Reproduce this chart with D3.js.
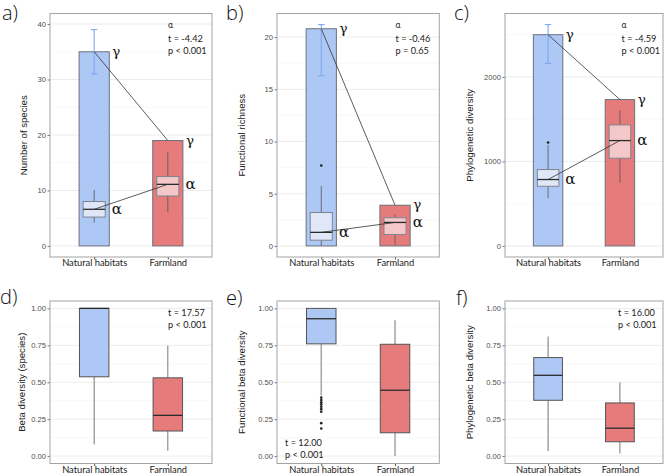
<!DOCTYPE html>
<html lang="en">
<head>
    <meta charset="UTF-8">
    <title>Diversity</title>
    <script src="https://cdn.jsdelivr.net/npm/d3@7/dist/d3.min.js"></script>
    <style>
        body {
            margin: 0;
            background: #fff;
        }
        #graphDiv {
            width: 669px;
            height: 475px;
        }
    </style>
</head>
<body>
<div id="graphDiv"></div>
<script>
    var categories = ["Natural habitats", "Farmland"];

    // a) species: gamma bars + alpha boxes (min, q1, median, q3, max)
    var speciesGamma = [35, 19];
    var speciesGammaErr = [31, 39];
    var speciesAlpha = [[4.2, 5.2, 6.6, 8.0, 10.1], [6.1, 9.0, 11.1, 12.5, 16.9]];
    var speciesOutliers = [[], []];
    var speciesTicks = [0, 10, 20, 30, 40];
    var speciesStats = ["\u03b1", "t  = -4.42", "p < 0.001"];

    // b) functional richness
    var fricGamma = [20.8, 3.9];
    var fricGammaErr = [16.3, 21.2];
    var fricAlpha = [[0, 0.55, 1.3, 3.2, 5.75], [0.1, 1.1, 2.25, 2.7, 3.0]];
    var fricOutliers = [[7.7], []];
    var fricTicks = [0, 5, 10, 15, 20];
    var fricStats = ["\u03b1", "t  = -0.46", "p = 0.65"];

    // c) phylogenetic diversity
    var pdGamma = [2500, 1732];
    var pdGammaErr = [2160, 2620];
    var pdAlpha = [[565, 706, 786, 904, 1195], [750, 1038, 1247, 1432, 1606]];
    var pdOutliers = [[1225], []];
    var pdTicks = [0, 1000, 2000];
    var pdStats = ["\u03b1", "t = -4.59", "p < 0.001"];

    // d-f) beta diversity boxes (min, q1, median, q3, max)
    var betaTicks = [0, 0.25, 0.5, 0.75, 1];
    var betaSpecies = [[0.08, 0.537, 1.0, 1.0, 1.0], [0.036, 0.17, 0.276, 0.53, 0.748]];
    var betaSpeciesOutliers = [[], []];
    var betaSpeciesStats = ["t  = 17.57", "p < 0.001"];

    var betaFunc = [[0.41, 0.76, 0.93, 1.0, 1.0], [0.0, 0.158, 0.446, 0.757, 0.919]];
    var betaFuncOutliers = [[0.396, 0.38, 0.365, 0.35, 0.334, 0.318, 0.30, 0.223, 0.187], []];
    var betaFuncStats = ["t  = 12.00", "p < 0.001"];

    var betaPhylo = [[0.034, 0.378, 0.547, 0.667, 0.809], [0.018, 0.097, 0.189, 0.36, 0.498]];
    var betaPhyloOutliers = [[], []];
    var betaPhyloStats = ["t = 16.00", "p < 0.001"];

    var fills = ["#adc8f4", "#e57b7b"];
    var innerFills = ["#dfe7f8", "#f4c8c8"];

    var panels = [
        {letter: "a)", lx: 2, ly: 19.5, x0: 50, x1: 212, y0: 13.5, y1: 257, domain: [-2.0, 41.9],
            ticks: speciesTicks, fmt: d3.format("d"), title: "Number of species", tx: 23.5,
            gamma: speciesGamma, err: speciesGammaErr, boxes: speciesAlpha, outliers: speciesOutliers,
            stats: speciesStats, sx: 168, sy: 28},
        {letter: "b)", lx: 226, ly: 19.5, x0: 277, x1: 439.3, y0: 13.5, y1: 257, domain: [-1.06, 22.26],
            ticks: fricTicks, fmt: d3.format("d"), title: "Functional richness", tx: 242,
            gamma: fricGamma, err: fricGammaErr, boxes: fricAlpha, outliers: fricOutliers,
            stats: fricStats, sx: 395.5, sy: 28},
        {letter: "c)", lx: 454, ly: 20, x0: 505, x1: 663, y0: 13.5, y1: 257, domain: [-131, 2751],
            ticks: pdTicks, fmt: d3.format("d"), title: "Phylogenetic diversity", tx: 470,
            gamma: pdGamma, err: pdGammaErr, boxes: pdAlpha, outliers: pdOutliers,
            stats: pdStats, sx: 621.5, sy: 28},
        {letter: "d)", lx: 0, ly: 304, x0: 50, x1: 212, y0: 301, y1: 463.5, domain: [-0.05, 1.05],
            ticks: betaTicks, fmt: d3.format(".2f"), title: "Beta diversity (species)", tx: 22,
            boxes: betaSpecies, outliers: betaSpeciesOutliers, whisker: "#666", whiskerW: 0.9,
            stats: betaSpeciesStats, sx: 168, sy: 316},
        {letter: "e)", lx: 226, ly: 305, x0: 277, x1: 439.3, y0: 301, y1: 463.5, domain: [-0.05, 1.05],
            ticks: betaTicks, fmt: d3.format(".2f"), title: "Functional beta diversity", tx: 242,
            boxes: betaFunc, outliers: betaFuncOutliers, whisker: "#a9a9a9", whiskerW: 1.6,
            stats: betaFuncStats, sx: 285, sy: 446},
        {letter: "f)", lx: 456, ly: 305, x0: 505, x1: 663, y0: 301, y1: 463.5, domain: [-0.05, 1.05],
            ticks: betaTicks, fmt: d3.format(".2f"), title: "Phylogenetic beta diversity", tx: 470,
            boxes: betaPhylo, outliers: betaPhyloOutliers, whisker: "#666", whiskerW: 0.9,
            stats: betaPhyloStats, sx: 618, sy: 316}
    ];

    var svg = d3.select("#graphDiv").append("svg")
        .attr("width", 669)
        .attr("height", 475);

    function drawPanel(p) {
        var g = svg.append("g");
        var x = d3.scalePoint().domain(categories).range([p.x0, p.x1]).padding(0.6);
        var y = d3.scaleLinear().domain(p.domain).range([p.y1, p.y0]);
        var step = x.step();
        var half = (p.ticks[1] - p.ticks[0]) / 2;

        // minor + major grid
        var minor = [p.ticks[0] - half].concat(p.ticks.map(function (t) {
            return t + half;
        })).filter(function (v) {
            return v > p.domain[0] && v < p.domain[1];
        });
        g.selectAll(".minor").data(minor).enter().append("line")
            .attr("x1", p.x0).attr("x2", p.x1)
            .attr("y1", function (d) { return y(d); })
            .attr("y2", function (d) { return y(d); })
            .style("stroke", "#f3f3f3").style("stroke-width", 0.6);
        g.selectAll(".major").data(p.ticks).enter().append("line")
            .attr("x1", p.x0).attr("x2", p.x1)
            .attr("y1", function (d) { return y(d); })
            .attr("y2", function (d) { return y(d); })
            .style("stroke", "#e9e9e9").style("stroke-width", 0.9);

        // y axis
        var ya = g.append("g")
            .attr("transform", "translate(" + p.x0 + ",0)")
            .call(d3.axisLeft(y).tickValues(p.ticks).tickFormat(p.fmt).tickSize(2.5).tickPadding(1.5));
        ya.select(".domain").remove();
        ya.selectAll("line").style("stroke", "#777");
        ya.selectAll("text").style("fill", "#4d4d4d")
            .style("font-family", "'Liberation Sans', Arial, sans-serif").style("font-size", "7.6px");

        // x axis
        var xa = g.append("g")
            .attr("transform", "translate(0," + p.y1 + ")")
            .call(d3.axisBottom(x).tickSize(2.5));
        xa.select(".domain").remove();
        xa.selectAll("line").style("stroke", "#555");
        xa.selectAll("text")
            .attr("y", 9.3).attr("dy", 0)
            .style("fill", "#1a1a1a")
            .style("font-family", "Lato, 'Open Sans', sans-serif").style("font-size", "9.3px");

        // y title
        g.append("text")
            .attr("transform", "translate(" + p.tx + "," + ((p.y0 + p.y1) / 2) + ") rotate(-90)")
            .attr("dy", "0.35em")
            .attr("text-anchor", "middle")
            .style("font-family", "'Liberation Sans', Arial, sans-serif")
            .style("font-size", "9.6px")
            .style("fill", "#222")
            .text(p.title);

        var bw = step * 0.41;
        var ibw = p.gamma ? step * 0.3 : step * 0.4;

        if (p.gamma) {
            g.selectAll(".bar").data(p.gamma).enter().append("rect")
                .attr("x", function (d, i) { return x(categories[i]) - bw / 2; })
                .attr("y", function (d) { return y(d); })
                .attr("width", bw)
                .attr("height", function (d) { return y(0) - y(d); })
                .style("fill", function (d, i) { return fills[i]; })
                .style("stroke", "#6c717d").style("stroke-width", 1);

            // error bar on natural habitats gamma
            var ex = x(categories[0]);
            g.append("line").attr("x1", ex).attr("x2", ex)
                .attr("y1", y(p.err[0])).attr("y2", y(p.err[1]))
                .style("stroke", "#7ea8ef").style("stroke-width", 1.1);
            g.selectAll(".cap").data(p.err).enter().append("line")
                .attr("x1", ex - 3.2).attr("x2", ex + 3.2)
                .attr("y1", function (d) { return y(d); })
                .attr("y2", function (d) { return y(d); })
                .style("stroke", "#7ea8ef").style("stroke-width", 1.1);
        }

        // boxes
        p.boxes.forEach(function (b, i) {
            var cx = x(categories[i]);
            var wc = p.gamma ? "#555" : p.whisker;
            var ww = p.gamma ? 0.8 : p.whiskerW;
            g.append("line").attr("x1", cx).attr("x2", cx)
                .attr("y1", y(b[0])).attr("y2", y(b[1]))
                .style("stroke", wc).style("stroke-width", ww);
            g.append("line").attr("x1", cx).attr("x2", cx)
                .attr("y1", y(b[3])).attr("y2", y(b[4]))
                .style("stroke", wc).style("stroke-width", ww);
            g.append("rect")
                .attr("x", cx - ibw / 2)
                .attr("y", y(b[3]))
                .attr("width", ibw)
                .attr("height", Math.max(0.5, y(b[1]) - y(b[3])))
                .style("fill", p.gamma ? innerFills[i] : fills[i])
                .style("stroke", p.gamma ? "#80848f" : "#555").style("stroke-width", 1);
            g.append("line").attr("x1", cx - ibw / 2).attr("x2", cx + ibw / 2)
                .attr("y1", y(b[2])).attr("y2", y(b[2]))
                .style("stroke", "#2b2b2b").style("stroke-width", 1.3);
            g.selectAll(".out" + i).data(p.outliers[i]).enter().append("circle")
                .attr("cx", cx)
                .attr("cy", function (d) { return y(d); })
                .attr("r", 1.3)
                .style("fill", "#222");
        });

        if (p.gamma) {
            var c0 = x(categories[0]), c1 = x(categories[1]);
            var links = [[p.gamma[0], p.gamma[1]], [p.boxes[0][2], p.boxes[1][2]]];
            g.selectAll(".link").data(links).enter().append("line")
                .attr("x1", c0).attr("x2", c1)
                .attr("y1", function (d) { return y(d[0]); })
                .attr("y2", function (d) { return y(d[1]); })
                .style("stroke", "#333").style("stroke-width", 0.8);

            // greek labels
            categories.forEach(function (c, i) {
                g.append("text")
                    .attr("x", x(c) + bw / 2 + 3)
                    .attr("y", y(p.gamma[i]))
                    .attr("dy", "0.3em")
                    .style("font-family", "'DejaVu Serif', 'Liberation Serif', serif")
                    .style("font-size", "13.5px")
                    .style("fill", "#111")
                    .text("\u03b3");
                g.append("text")
                    .attr("x", x(c) + bw / 2 + 2.5)
                    .attr("y", y(p.boxes[i][2]))
                    .attr("dy", "0.32em")
                    .style("font-family", "'DejaVu Serif', 'Liberation Serif', serif")
                    .style("font-size", "15px")
                    .style("fill", "#111")
                    .text("\u03b1");
            });
        }

        // stats text
        g.selectAll(".stat").data(p.stats).enter().append("text")
            .attr("x", p.sx)
            .attr("y", function (d, i) {
                if (p.gamma) return i == 0 ? p.sy : p.sy + 1 + i * 12.5;
                return p.sy + i * 11.8;
            })
            .style("font-family", "Lato, 'Open Sans', sans-serif")
            .style("font-size", function (d, i) { return (p.gamma && i == 0) ? "8.5px" : "9.2px"; })
            .style("fill", "#1a1a1a")
            .text(function (d) { return d; });

        // panel border
        g.append("rect")
            .attr("x", p.x0).attr("y", p.y0)
            .attr("width", p.x1 - p.x0).attr("height", p.y1 - p.y0)
            .style("fill", "none").style("stroke", "#a3a3a3").style("stroke-width", 1);

        // panel letter
        svg.append("text")
            .attr("x", p.lx).attr("y", p.ly)
            .style("font-family", "'Open Sans', Lato, sans-serif")
            .style("font-weight", 300)
            .style("font-size", "20px")
            .style("fill", "#111")
            .text(p.letter);
    }

    panels.forEach(drawPanel);
</script>
</body>
</html>
